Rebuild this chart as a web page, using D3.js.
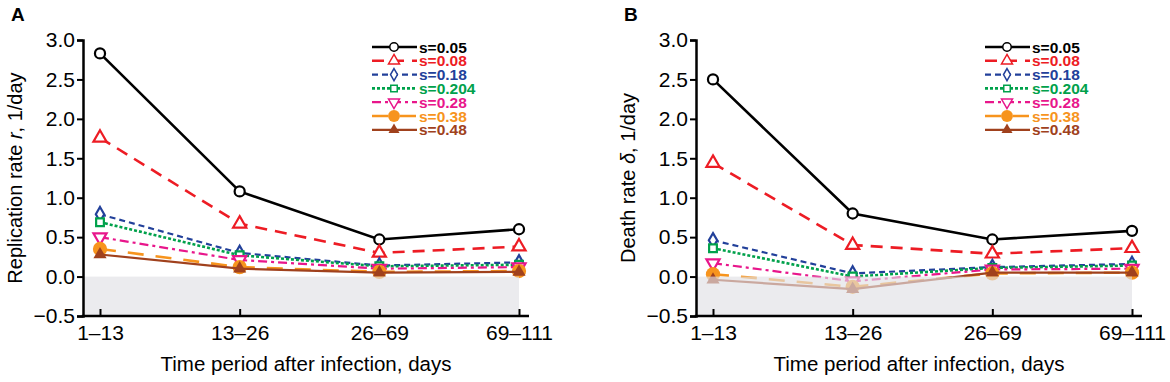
<!DOCTYPE html>
<html lang="en">
<head>
  <meta charset="UTF-8">
  <title>Replication and death rates</title>
  <style>
    body { margin: 0; background: #fff; }
    svg { display: block; font-family: "Liberation Sans", Arial, sans-serif; }
  </style>
</head>
<body>
  <div id="main"></div>
  <script src="https://d3js.org/d3.v7.min.js"></script>
  <script>
    // data
    const categories = ['1–13', '13–26', '26–69', '69–111'];
    const seriesNames = ['s=0.05', 's=0.08', 's=0.18', 's=0.204', 's=0.28', 's=0.38', 's=0.48'];
    const yTicks = [-0.5, 0, 0.5, 1.0, 1.5, 2.0, 2.5, 3.0];

    // panel A: replication rate r, one row per series
    const replicationRate = [
      [2.83, 1.08, 0.47, 0.60],
      [1.76, 0.67, 0.30, 0.38],
      [0.79, 0.30, 0.14, 0.18],
      [0.69, 0.27, 0.13, 0.15],
      [0.50, 0.21, 0.10, 0.12],
      [0.35, 0.12, 0.06, 0.07],
      [0.28, 0.10, 0.05, 0.06]
    ];

    // panel B: death rate delta
    const deathRate = [
      [2.50, 0.80, 0.47, 0.58],
      [1.44, 0.40, 0.29, 0.36],
      [0.46, 0.04, 0.12, 0.16],
      [0.36, 0.00, 0.11, 0.14],
      [0.17, -0.06, 0.09, 0.10],
      [0.03, -0.13, 0.04, 0.05],
      [-0.04, -0.16, 0.05, 0.05]
    ];

    // styles for each series
    const colors = ['#000000', '#ed1c24', '#22409a', '#00a14b', '#e8168b', '#f7941d', '#a0411d'];
    const dashes = [null, '12,8', '6,4', '3,2', '9,4,3,4', '16,12', null];
    const widths = [2.6, 2.6, 2.2, 2.6, 2.2, 2.6, 2.2];
    const symbols = [d3.symbolCircle, d3.symbolTriangle, d3.symbolDiamond, d3.symbolSquare,
      d3.symbolTriangle, d3.symbolCircle, d3.symbolTriangle];
    const symSize = [80, 75, 60, 60, 75, 160, 75];
    const filled = [false, false, false, false, false, true, true];
    const flipped = [false, false, false, false, true, false, false];

    const [width, height] = [1170, 382];
    const svg = d3.select('#main').append('svg')
      .attr('width', width)
      .attr('height', height)
      .attr('viewBox', `0 0 ${width} ${height}`);

    const y = d3.scaleLinear().domain([-0.5, 3.0]).range([316, 40]);

    function drawPanel(ox, values, letter, labelPre, labelSym) {
      const g = svg.append('g').attr('transform', `translate(${ox},0)`);
      const axisX = 83;
      const x = d3.scalePoint().domain(categories).range([100, 519]);

      // series lines and markers
      values.forEach((row, i) => {
        const line = d3.line().x((d, j) => x(categories[j])).y(d => y(d));
        g.append('path')
          .datum(row)
          .attr('d', line)
          .attr('fill', 'none')
          .attr('stroke', colors[i])
          .attr('stroke-width', widths[i])
          .attr('stroke-dasharray', dashes[i]);
        g.selectAll(null)
          .data(row)
          .join('path')
          .attr('d', d3.symbol(symbols[i], symSize[i]))
          .attr('transform', (d, j) => `translate(${x(categories[j])},${y(d)})` + (flipped[i] ? ' rotate(180)' : ''))
          .attr('fill', filled[i] ? colors[i] : '#fff')
          .attr('stroke', colors[i])
          .attr('stroke-width', filled[i] ? 0 : 2.2);
      });

      // shaded negative region (drawn over, semi-transparent)
      g.append('rect')
        .attr('x', axisX + 1)
        .attr('y', y(0))
        .attr('width', x(categories[3]) - axisX - 1)
        .attr('height', y(-0.5) - y(0))
        .attr('fill', 'rgb(224,225,229)')
        .attr('fill-opacity', 0.65);

      // y axis
      const yAxis = g.append('g')
        .attr('transform', `translate(${axisX},0)`)
        .call(d3.axisLeft(y).tickValues(yTicks).tickFormat(d3.format('.1f')).tickSize(6).tickPadding(2));
      yAxis.select('.domain').attr('stroke-width', 2.5);
      yAxis.selectAll('.tick line').attr('stroke-width', 2);
      yAxis.selectAll('text').style('font-size', '21px').attr('fill', '#000');

      // x axis, ticks pointing inward
      const xAxis = g.append('g')
        .attr('transform', `translate(0,${y(-0.5)})`)
        .call(d3.axisBottom(x).tickSize(-7).tickPadding(9));
      xAxis.select('.domain').remove();
      xAxis.selectAll('.tick line').attr('stroke-width', 2);
      xAxis.selectAll('text').style('font-size', '21px').attr('fill', '#000');
      g.append('line')
        .attr('x1', axisX - 1.2).attr('x2', 529)
        .attr('y1', y(-0.5)).attr('y2', y(-0.5))
        .attr('stroke', '#000').attr('stroke-width', 2.5);

      // titles
      g.append('text')
        .attr('x', (axisX + 529) / 2).attr('y', 371)
        .attr('text-anchor', 'middle')
        .style('font-size', '20.5px')
        .text('Time period after infection, days');

      const yl = g.append('text')
        .attr('transform', `translate(${axisX - 61},178) rotate(-90)`)
        .attr('text-anchor', 'middle')
        .style('font-size', '20px');
      yl.append('tspan').text(labelPre);
      yl.append('tspan').style('font-style', 'italic').text(labelSym);
      yl.append('tspan').text(', 1/day');

      g.append('text')
        .attr('x', 11).attr('y', 21)
        .style('font-size', '19px').style('font-weight', 'bold')
        .text(letter);

      // legend
      const lg = g.append('g').attr('transform', 'translate(372,47)');
      seriesNames.forEach((name, i) => {
        const row = lg.append('g').attr('transform', `translate(0,${i * 13.8})`);
        row.append('line')
          .attr('x1', 0).attr('x2', 45)
          .attr('stroke', colors[i])
          .attr('stroke-width', widths[i])
          .attr('stroke-dasharray', dashes[i]);
        row.append('path')
          .attr('d', d3.symbol(symbols[i], symSize[i] * 0.7))
          .attr('transform', 'translate(22,0)' + (flipped[i] ? ' rotate(180)' : ''))
          .attr('fill', filled[i] ? colors[i] : '#fff')
          .attr('stroke', colors[i])
          .attr('stroke-width', filled[i] ? 0 : 1.5);
        row.append('text')
          .attr('x', 47).attr('y', 5.5)
          .attr('fill', colors[i])
          .style('font-size', '15.5px').style('font-weight', 'bold')
          .text(name);
      });
    }

    drawPanel(0, replicationRate, 'A', 'Replication rate ', 'r');
    drawPanel(613, deathRate, 'B', 'Death rate ', 'δ');
  </script>
</body>
</html>
